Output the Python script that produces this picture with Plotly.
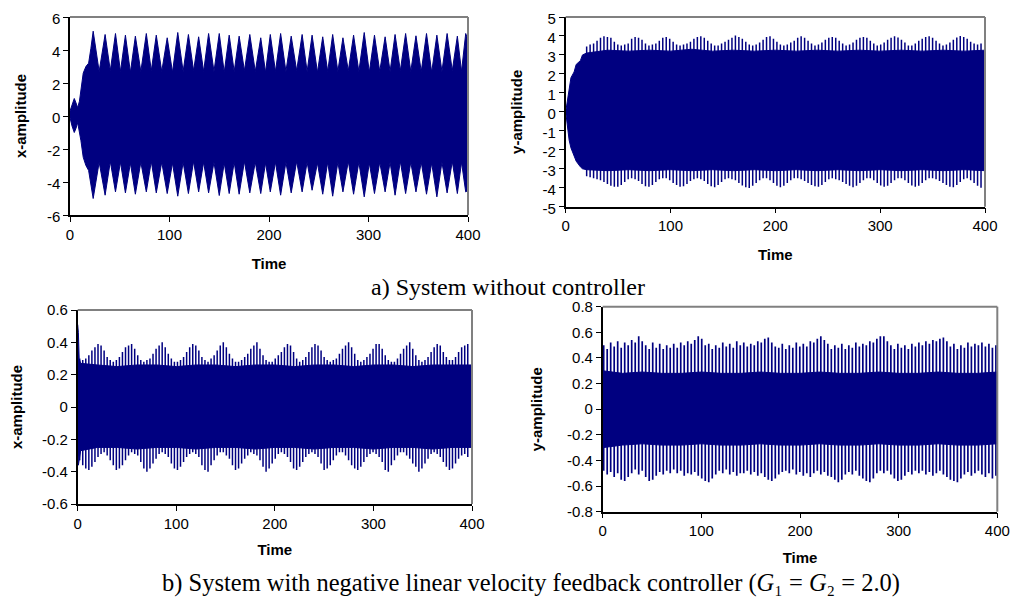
import plotly.graph_objects as go

# ------------------------------------------------------------------
# DATA
# ------------------------------------------------------------------
time_ticks = [0, 100, 200, 300, 400]
time_ticktext = ["0", "100", "200", "300", "400"]

# (a) left: x-amplitude without controller -- envelope of beating response
ax_start_t = [0, 2, 4.3, 6, 7.7, 9.5, 11, 13.3, 16, 18.7, 21]
ax_start_hi = [0.3, 0.7, 1.06, 0.8, 0.5, 0.9, 1.6, 2.6, 3.0, 3.2, 4.1]
ax_start_lo = [-0.1, -0.6, -1.0, -0.75, -0.4, -0.9, -1.5, -2.5, -3.0, -3.3, -4.1]
ax_peak_t = [23.3, 35.3, 45.7, 55.7, 65.7, 76.7, 86.7, 97.7, 108.3, 119, 129.3, 139.3,
             150, 160, 170, 180.7, 191.7, 201.3, 211.7, 222.3, 233.3, 243.3, 254, 264,
             274.3, 285, 295.7, 306, 316.7, 326.7, 337.3, 347.7, 358.3, 368.7, 379,
             389.3, 397.7]
ax_peak_hi = [5.14, 4.94, 5.0, 4.9, 4.84, 5.0, 4.9, 4.74, 5.06, 4.94, 4.8, 5.0,
              5.0, 4.9, 4.84, 4.94, 4.74, 4.94, 5.0, 4.84, 4.94, 4.9, 4.8, 4.94,
              4.74, 4.9, 5.06, 4.9, 4.8, 4.94, 5.0, 4.86, 5.0, 4.9, 5.0, 4.84, 5.0]
ax_peak_lo = [-5.0, -4.8, -4.6, -4.66, -4.74, -4.6, -4.66, -4.7, -4.86, -4.7, -4.6, -4.66,
              -4.82, -4.7, -4.74, -4.66, -4.7, -4.6, -4.8, -4.66, -4.6, -4.5, -4.74, -4.86,
              -4.6, -4.74, -4.9, -4.7, -4.6, -4.8, -4.7, -4.6, -4.74, -4.9, -4.66, -4.7, -4.6]
ax_trough_t = [29.3, 40.5, 50.7, 60.7, 71.2, 81.7, 92.2, 103, 113.7, 124.2, 134.3, 144.7,
               155, 165, 175.3, 186.2, 196.5, 206.5, 217, 227.8, 238.3, 248.7, 259, 269.2,
               279.7, 290.3, 300.8, 311.3, 321.7, 332, 342.5, 353, 363.5, 373.8, 384.2, 393.5]
ax_trough_hi = [2.7, 2.75, 2.7, 2.65, 2.7, 2.75, 2.7, 2.65, 2.7, 2.75, 2.7, 2.7,
                2.65, 2.7, 2.75, 2.7, 2.65, 2.7, 2.7, 2.75, 2.7, 2.65, 2.7, 2.7,
                2.75, 2.7, 2.65, 2.7, 2.7, 2.75, 2.7, 2.7, 2.65, 2.7, 2.75, 2.7]
ax_trough_lo = [-2.8, -2.75, -2.8, -2.85, -2.8, -2.75, -2.8, -2.85, -2.8, -2.75, -2.8, -2.8,
                -2.85, -2.8, -2.75, -2.8, -2.85, -2.8, -2.8, -2.75, -2.8, -2.85, -2.8, -2.8,
                -2.75, -2.8, -2.85, -2.8, -2.8, -2.75, -2.8, -2.8, -2.85, -2.8, -2.75, -2.8]
ax_end_t = [400]
ax_end_hi = [4.6]
ax_end_lo = [-4.5]
ax_yticks = [-6, -4, -2, 0, 2, 4, 6]
ax_yticktext = ["-6", "-4", "-2", "0", "2", "4", "6"]

# (a) right: y-amplitude without controller -- dense core + oscillation peaks
ay_core_t = [0, 1.5, 3.3, 5, 8, 10, 14, 16, 20, 40, 60, 80, 100, 120, 140, 160, 180,
             200, 220, 240, 260, 280, 300, 320, 340, 360, 380, 400]
ay_core_hi = [0.0, 0.6, 1.3, 1.8, 2.1, 2.5, 2.7, 3.0, 3.1, 3.25, 3.2, 3.25, 3.2, 3.3, 3.2,
              3.25, 3.2, 3.25, 3.2, 3.25, 3.2, 3.25, 3.2, 3.25, 3.2, 3.25, 3.2, 3.25]
ay_core_lo = [0.0, -0.8, -1.5, -1.9, -2.3, -2.6, -2.9, -3.0, -3.05, -3.1, -3.05, -3.1,
              -3.05, -3.1, -3.05, -3.1, -3.05, -3.1, -3.05, -3.1, -3.05, -3.1, -3.05,
              -3.1, -3.05, -3.1, -3.05, -3.1]
ay_peak_t0 = 20.0   # first resolved oscillation peak
ay_peak_dt = 3.3    # spacing of oscillation peaks
ay_peak_hi = [
    3.45, 3.55, 3.6, 3.75, 3.9, 3.98, 3.95, 3.9, 3.7, 3.55,
    3.5, 3.55, 3.6, 3.85, 3.95, 3.9, 3.8, 3.6, 3.5, 3.55,
    3.6, 3.75, 3.9, 3.95, 3.85, 3.7, 3.55, 3.5, 3.55, 3.6,
    3.7, 3.85, 3.95, 3.98, 3.9, 3.75, 3.6, 3.5, 3.5, 3.6,
    3.7, 3.8, 3.9, 4.02, 3.95, 3.85, 3.7, 3.55, 3.5, 3.55,
    3.65, 3.8, 3.95, 3.98, 3.85, 3.7, 3.55, 3.5, 3.55, 3.65,
    3.75, 3.9, 3.98, 3.9, 3.75, 3.6, 3.5, 3.55, 3.65, 3.8,
    3.9, 3.95, 3.9, 3.75, 3.6, 3.5, 3.55, 3.65, 3.8, 3.9,
    3.95, 3.9, 3.75, 3.6, 3.5, 3.55, 3.65, 3.8, 3.9, 3.98,
    3.92, 3.8, 3.65, 3.5, 3.5, 3.6, 3.75, 3.85, 3.95, 3.98,
    3.9, 3.75, 3.6, 3.5, 3.55, 3.65, 3.8, 3.92, 4.0, 3.95,
    3.85, 3.7, 3.6, 3.55, 3.6]
ay_peak_lo = [
    -3.4, -3.45, -3.5, -3.55, -3.6, -3.7, -3.8, -3.9, -3.95, -3.95,
    -3.85, -3.7, -3.55, -3.5, -3.55, -3.65, -3.8, -3.92, -3.95, -3.85,
    -3.7, -3.55, -3.5, -3.5, -3.6, -3.75, -3.85, -3.95, -3.92, -3.8,
    -3.65, -3.55, -3.5, -3.55, -3.65, -3.8, -3.92, -3.98, -3.85, -3.7,
    -3.55, -3.5, -3.55, -3.6, -3.75, -3.88, -3.98, -4.02, -3.9, -3.75,
    -3.6, -3.5, -3.5, -3.6, -3.75, -3.9, -3.98, -3.9, -3.75, -3.6,
    -3.5, -3.5, -3.55, -3.65, -3.75, -3.85, -3.92, -3.95, -3.85, -3.7,
    -3.55, -3.5, -3.55, -3.6, -3.7, -3.8, -3.9, -3.98, -3.9, -3.75,
    -3.6, -3.5, -3.5, -3.6, -3.75, -3.88, -3.95, -3.9, -3.75, -3.6,
    -3.5, -3.5, -3.6, -3.75, -3.88, -3.95, -3.9, -3.75, -3.6, -3.5,
    -3.5, -3.55, -3.65, -3.75, -3.85, -3.95, -3.98, -3.85, -3.7, -3.55,
    -3.5, -3.6, -3.75, -3.9, -4.0]
ay_yticks = [-5, -4, -3, -2, -1, 0, 1, 2, 3, 4, 5]
ay_yticktext = ["-5", "-4", "-3", "-2", "-1", "0", "1", "2", "3", "4", "5"]

# (b) left: x-amplitude with velocity feedback controller
bx_core_t = [0, 0.7, 1.5, 3, 20, 40, 60, 80, 100, 120, 140, 160, 180, 200, 220, 240,
             260, 280, 300, 320, 340, 360, 380, 400]
bx_core_hi = [0.51, 0.46, 0.30, 0.27, 0.26, 0.25, 0.26, 0.26, 0.25, 0.26, 0.26, 0.25,
              0.26, 0.26, 0.25, 0.26, 0.26, 0.25, 0.26, 0.26, 0.25, 0.26, 0.26, 0.26]
bx_core_lo = [-0.25, -0.36, -0.33, -0.27, -0.25, -0.25, -0.26, -0.25, -0.25, -0.26,
              -0.25, -0.25, -0.26, -0.25, -0.25, -0.26, -0.25, -0.25, -0.26, -0.25,
              -0.25, -0.26, -0.25, -0.25]
bx_peak_t0 = 2.0
bx_peak_dt = 3.1
bx_peak_hi = [
    0.30, 0.29, 0.30, 0.32, 0.35, 0.37, 0.39, 0.38, 0.35, 0.31,
    0.29, 0.28, 0.29, 0.31, 0.34, 0.37, 0.38, 0.39, 0.36, 0.32,
    0.29, 0.28, 0.29, 0.30, 0.33, 0.36, 0.38, 0.40, 0.37, 0.33,
    0.30, 0.28, 0.28, 0.29, 0.31, 0.34, 0.37, 0.39, 0.38, 0.35,
    0.31, 0.29, 0.28, 0.30, 0.32, 0.35, 0.38, 0.40, 0.37, 0.33,
    0.30, 0.28, 0.28, 0.29, 0.31, 0.33, 0.36, 0.38, 0.40, 0.36,
    0.32, 0.29, 0.28, 0.28, 0.30, 0.32, 0.34, 0.37, 0.39, 0.38,
    0.34, 0.30, 0.28, 0.29, 0.31, 0.34, 0.37, 0.39, 0.38, 0.35,
    0.31, 0.29, 0.28, 0.29, 0.30, 0.33, 0.36, 0.38, 0.40, 0.37,
    0.33, 0.29, 0.28, 0.29, 0.31, 0.33, 0.36, 0.39, 0.39, 0.36,
    0.32, 0.29, 0.28, 0.28, 0.30, 0.33, 0.36, 0.38, 0.40, 0.36,
    0.32, 0.29, 0.28, 0.29, 0.31, 0.34, 0.37, 0.39, 0.38, 0.34,
    0.31, 0.29, 0.29, 0.31, 0.34, 0.37, 0.38, 0.39]
bx_peak_lo = [
    -0.33, -0.36, -0.38, -0.39, -0.37, -0.34, -0.31, -0.29, -0.28, -0.30,
    -0.33, -0.36, -0.39, -0.38, -0.36, -0.33, -0.30, -0.28, -0.29, -0.30,
    -0.34, -0.38, -0.40, -0.38, -0.35, -0.32, -0.29, -0.28, -0.29, -0.31,
    -0.35, -0.38, -0.39, -0.37, -0.34, -0.31, -0.29, -0.28, -0.29, -0.31,
    -0.36, -0.39, -0.40, -0.36, -0.33, -0.30, -0.28, -0.28, -0.30, -0.32,
    -0.36, -0.39, -0.38, -0.35, -0.32, -0.30, -0.28, -0.29, -0.30, -0.33,
    -0.37, -0.40, -0.38, -0.35, -0.32, -0.29, -0.28, -0.29, -0.31, -0.34,
    -0.38, -0.39, -0.37, -0.34, -0.31, -0.29, -0.28, -0.29, -0.31, -0.35,
    -0.39, -0.38, -0.36, -0.33, -0.30, -0.28, -0.28, -0.30, -0.33, -0.36,
    -0.38, -0.39, -0.37, -0.34, -0.31, -0.29, -0.28, -0.29, -0.31, -0.34,
    -0.39, -0.40, -0.36, -0.33, -0.30, -0.28, -0.28, -0.30, -0.32, -0.35,
    -0.37, -0.40, -0.38, -0.35, -0.32, -0.29, -0.28, -0.29, -0.31, -0.34,
    -0.37, -0.39, -0.38, -0.35, -0.32, -0.30, -0.29, -0.31]
bx_yticks = [-0.6, -0.4, -0.2, 0, 0.2, 0.4, 0.6]
bx_yticktext = ["-0.6", "-0.4", "-0.2", "0", "0.2", "0.4", "0.6"]

# (b) right: y-amplitude with velocity feedback controller
by_core_t = [0, 20, 40, 60, 80, 100, 120, 140, 160, 180, 200, 220, 240, 260, 280, 300,
             320, 340, 360, 380, 400]
by_core_hi = [0.30, 0.28, 0.29, 0.28, 0.28, 0.29, 0.28, 0.28, 0.29, 0.28, 0.28, 0.29,
              0.28, 0.28, 0.29, 0.28, 0.28, 0.29, 0.28, 0.28, 0.29]
by_core_lo = [-0.30, -0.28, -0.27, -0.28, -0.28, -0.27, -0.28, -0.28, -0.27, -0.28,
              -0.28, -0.27, -0.28, -0.28, -0.27, -0.28, -0.28, -0.27, -0.28, -0.28, -0.27]
by_peak_t0 = 1.0
by_peak_dt = 3.55
by_peak_hi = [
    0.50, 0.47, 0.52, 0.49, 0.53, 0.48, 0.52, 0.50, 0.54, 0.52,
    0.57, 0.53, 0.50, 0.47, 0.52, 0.48, 0.51, 0.47, 0.50, 0.48,
    0.51, 0.48, 0.52, 0.50, 0.53, 0.51, 0.54, 0.57, 0.55, 0.50,
    0.51, 0.47, 0.50, 0.48, 0.52, 0.49, 0.51, 0.48, 0.53, 0.50,
    0.52, 0.49, 0.51, 0.50, 0.53, 0.52, 0.55, 0.56, 0.52, 0.49,
    0.48, 0.51, 0.47, 0.50, 0.48, 0.52, 0.49, 0.51, 0.49, 0.53,
    0.52, 0.55, 0.57, 0.54, 0.51, 0.47, 0.50, 0.48, 0.51, 0.47,
    0.50, 0.48, 0.52, 0.49, 0.51, 0.50, 0.53, 0.52, 0.55, 0.57,
    0.57, 0.53, 0.50, 0.47, 0.51, 0.48, 0.50, 0.47, 0.51, 0.49,
    0.52, 0.50, 0.53, 0.51, 0.54, 0.53, 0.55, 0.56, 0.53, 0.49,
    0.51, 0.47, 0.50, 0.48, 0.52, 0.49, 0.51, 0.50, 0.52, 0.49,
    0.51, 0.48, 0.50]
by_peak_lo = [
    -0.48, -0.51, -0.49, -0.53, -0.50, -0.55, -0.56, -0.53, -0.50, -0.47,
    -0.51, -0.48, -0.53, -0.56, -0.55, -0.52, -0.49, -0.51, -0.48, -0.50,
    -0.47, -0.50, -0.48, -0.52, -0.50, -0.51, -0.49, -0.52, -0.54, -0.56,
    -0.57, -0.54, -0.51, -0.48, -0.50, -0.47, -0.51, -0.49, -0.52, -0.50,
    -0.50, -0.48, -0.51, -0.49, -0.52, -0.50, -0.53, -0.55, -0.56, -0.54,
    -0.51, -0.49, -0.48, -0.50, -0.47, -0.51, -0.49, -0.52, -0.50, -0.53,
    -0.50, -0.48, -0.51, -0.49, -0.52, -0.53, -0.55, -0.57, -0.55, -0.51,
    -0.49, -0.51, -0.48, -0.52, -0.54, -0.56, -0.57, -0.54, -0.50, -0.48,
    -0.50, -0.48, -0.51, -0.54, -0.56, -0.55, -0.52, -0.49, -0.51, -0.48,
    -0.50, -0.48, -0.51, -0.49, -0.52, -0.50, -0.48, -0.51, -0.53, -0.55,
    -0.56, -0.57, -0.54, -0.51, -0.49, -0.52, -0.50, -0.48, -0.51, -0.53,
    -0.50, -0.54, -0.52]
by_yticks = [-0.8, -0.6, -0.4, -0.2, 0, 0.2, 0.4, 0.6, 0.8]
by_yticktext = ["-0.8", "-0.6", "-0.4", "-0.2", "0", "0.2", "0.4", "0.6", "0.8"]

caption_a = "a) System without controller"
caption_b = ("b) System with negative linear velocity feedback controller "
             "(<i>G</i>\u2081 = <i>G</i>\u2082 = 2.0)")

# ------------------------------------------------------------------
# FIGURE
# ------------------------------------------------------------------
NAVY = "#000080"
PAGE_W, PAGE_H = 1019, 598
OFF = 8                      # default page margin of the html body
W, H = PAGE_W - OFF, PAGE_H - OFF


def xdom(left, right):
    return [(left - OFF) / W, (right - OFF) / W]


def ydom(top, bottom):
    return [1 - (bottom - OFF) / H, 1 - (top - OFF) / H]


def envelope_polygon(t_hi, v_hi, t_lo, v_lo):
    xs = list(t_hi) + list(t_lo)[::-1]
    ys = list(v_hi) + list(v_lo)[::-1]
    return xs, ys


def peak_segments(t0, dt, hi, lo):
    xs, ys = [], []
    for i, v in enumerate(hi):
        t = t0 + i * dt
        xs += [t, t, None]
        ys += [0, v, None]
    for i, v in enumerate(lo):
        t = t0 + i * dt
        xs += [t, t, None]
        ys += [0, v, None]
    return xs, ys


fig = go.Figure()

# --- (a) left: merge beating peaks and troughs in time order
hi_pts = sorted(list(zip(ax_start_t, ax_start_hi)) + list(zip(ax_peak_t, ax_peak_hi)) +
                list(zip(ax_trough_t, ax_trough_hi)) + list(zip(ax_end_t, ax_end_hi)))
lo_pts = sorted(list(zip(ax_start_t, ax_start_lo)) + list(zip(ax_peak_t, ax_peak_lo)) +
                list(zip(ax_trough_t, ax_trough_lo)) + list(zip(ax_end_t, ax_end_lo)))
px, py = envelope_polygon([p[0] for p in hi_pts], [p[1] for p in hi_pts],
                          [p[0] for p in lo_pts], [p[1] for p in lo_pts])
fig.add_trace(go.Scatter(x=px, y=py, fill="toself", fillcolor=NAVY, mode="lines",
                         line=dict(color=NAVY, width=1), xaxis="x", yaxis="y",
                         showlegend=False, hoverinfo="skip"))

# --- (a) right
px, py = envelope_polygon(ay_core_t, ay_core_hi, ay_core_t, ay_core_lo)
fig.add_trace(go.Scatter(x=px, y=py, fill="toself", fillcolor=NAVY, mode="lines",
                         line=dict(color=NAVY, width=1), xaxis="x2", yaxis="y2",
                         showlegend=False, hoverinfo="skip"))
sx, sy = peak_segments(ay_peak_t0, ay_peak_dt, ay_peak_hi, ay_peak_lo)
fig.add_trace(go.Scatter(x=sx, y=sy, mode="lines", line=dict(color=NAVY, width=1.5),
                         xaxis="x2", yaxis="y2", showlegend=False, hoverinfo="skip"))

# --- (b) left
px, py = envelope_polygon(bx_core_t, bx_core_hi, bx_core_t, bx_core_lo)
fig.add_trace(go.Scatter(x=px, y=py, fill="toself", fillcolor=NAVY, mode="lines",
                         line=dict(color=NAVY, width=1), xaxis="x3", yaxis="y3",
                         showlegend=False, hoverinfo="skip"))
sx, sy = peak_segments(bx_peak_t0, bx_peak_dt, bx_peak_hi, bx_peak_lo)
fig.add_trace(go.Scatter(x=sx, y=sy, mode="lines", line=dict(color=NAVY, width=1.5),
                         xaxis="x3", yaxis="y3", showlegend=False, hoverinfo="skip"))

# --- (b) right
px, py = envelope_polygon(by_core_t, by_core_hi, by_core_t, by_core_lo)
fig.add_trace(go.Scatter(x=px, y=py, fill="toself", fillcolor=NAVY, mode="lines",
                         line=dict(color=NAVY, width=1), xaxis="x4", yaxis="y4",
                         showlegend=False, hoverinfo="skip"))
sx, sy = peak_segments(by_peak_t0, by_peak_dt, by_peak_hi, by_peak_lo)
fig.add_trace(go.Scatter(x=sx, y=sy, mode="lines", line=dict(color=NAVY, width=1.7),
                         xaxis="x4", yaxis="y4", showlegend=False, hoverinfo="skip"))

FONT = "Liberation Sans, Arial, sans-serif"
TICKFONT = dict(family=FONT, size=15, color="black")
TITLEFONT = dict(family=FONT, size=15, color="black", weight="bold")
common = dict(showgrid=False, zeroline=False, showline=True, linecolor="black",
              linewidth=1.5, ticks="outside", ticklen=5, tickwidth=1.3,
              tickcolor="black", tickfont=TICKFONT, fixedrange=True, automargin=False,
              ticklabeloverflow="allow")

panels = [
    # (xaxis, yaxis, x-domain px, y-domain px, y range, y ticks, y text, y title,
    #  x title standoff, y title standoff, y label shift)
    ("x", "y", xdom(70, 468), ydom(17, 215), [-6, 6], ax_yticks, ax_yticktext,
     "x-amplitude", 17, 17, 2),
    ("x2", "y2", xdom(565.7, 985), ydom(17, 206.7), [-5, 5], ay_yticks, ay_yticktext,
     "y-amplitude", 16, 16, 2),
    ("x3", "y3", xdom(77.7, 472), ydom(310, 504), [-0.6, 0.6], bx_yticks, bx_yticktext,
     "x-amplitude", 14, 21, 0),
    ("x4", "y4", xdom(602.7, 997.3), ydom(306.7, 511.7), [-0.8, 0.8], by_yticks,
     by_yticktext, "y-amplitude", 14, 21, 0),
]

layout = dict(width=W, height=H, margin=dict(l=0, r=0, t=0, b=0, autoexpand=False),
              paper_bgcolor="white", plot_bgcolor="white", showlegend=False)
shapes = []
for xa, ya, xd_, yd_, yr, yt, ytt, ytitle, xso, yso, yshift in panels:
    xkey = "xaxis" if xa == "x" else "xaxis" + xa[1:]
    ykey = "yaxis" if ya == "y" else "yaxis" + ya[1:]
    layout[xkey] = dict(common, domain=xd_, range=[0, 400], anchor=ya,
                        tickvals=time_ticks, ticktext=time_ticktext,
                        title=dict(text="Time", font=TITLEFONT, standoff=xso))
    layout[ykey] = dict(common, domain=yd_, range=yr, anchor=xa,
                        tickvals=yt, ticktext=ytt, ticklabelshift=yshift,
                        title=dict(text=ytitle, font=TITLEFONT, standoff=yso))
    # grey frame on top and right
    shapes.append(dict(type="line", xref="paper", yref="paper", x0=xd_[0], x1=xd_[1],
                       y0=yd_[1], y1=yd_[1], line=dict(color="#808080", width=2)))
    shapes.append(dict(type="line", xref="paper", yref="paper", x0=xd_[1], x1=xd_[1],
                       y0=yd_[0], y1=yd_[1], line=dict(color="#808080", width=2)))
layout["shapes"] = shapes


def ann(text, xp, yp, size):
    return dict(text=text, x=(xp - OFF) / W, y=1 - (yp - OFF) / H, xref="paper",
                yref="paper", showarrow=False, xanchor="center", yanchor="middle",
                font=dict(family="Liberation Serif, Times New Roman, serif", size=size,
                          color="black"))


layout["annotations"] = [
    ann(caption_a, 508, 287, 24),
    ann(caption_b, 531, 583, 24.5),
]

fig.update_layout(**layout)
fig.write_html("out.html")
